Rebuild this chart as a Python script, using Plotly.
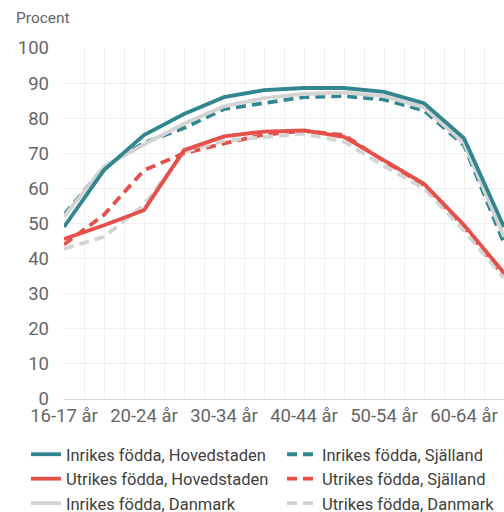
import plotly.graph_objects as go

categories = ["16-17 år", "18-19 år", "20-24 år", "25-29 år", "30-34 år", "35-39 år",
              "40-44 år", "45-49 år", "50-54 år", "55-59 år", "60-64 år", "65-69 år"]

inrikes_hovedstaden = [49.0, 65.2, 75.2, 81.2, 86.0, 88.0, 88.6, 88.6, 87.5, 84.3, 74.3, 49.0]
inrikes_sjalland    = [52.5, 66.0, 73.0, 77.2, 82.6, 84.4, 86.0, 86.3, 85.3, 82.2, 72.3, 44.4]
utrikes_hovedstaden = [45.6, 49.5, 53.8, 70.9, 74.8, 76.2, 76.5, 74.7, 68.0, 61.3, 49.6, 35.9]
utrikes_sjalland    = [44.0, 52.5, 65.2, 70.0, 72.8, 75.3, 76.4, 75.2, 67.8, 61.0, 49.0, 35.0]
inrikes_danmark     = [52.0, 66.2, 72.5, 78.4, 83.4, 85.7, 86.9, 87.3, 86.3, 83.1, 72.9, 46.2]
utrikes_danmark     = [42.8, 46.2, 55.3, 70.3, 73.6, 74.7, 75.6, 73.3, 66.4, 60.0, 48.0, 34.5]

x_idx = list(range(len(categories)))

TEAL = "#31868F"
RED = "#E5504A"
GRAY = "#D4D4D4"
DASH = "10px,6px"

series = [
    # (name, values, color, dash, legend, rank)
    ("Inrikes födda, Själland", inrikes_sjalland, TEAL, DASH, "legend2", 1),
    ("Utrikes födda, Själland", utrikes_sjalland, RED, DASH, "legend2", 2),
    ("Utrikes födda, Danmark", utrikes_danmark, GRAY, DASH, "legend2", 3),
    ("Inrikes födda, Danmark", inrikes_danmark, GRAY, "solid", "legend", 3),
    ("Utrikes födda, Hovedstaden", utrikes_hovedstaden, RED, "solid", "legend", 2),
    ("Inrikes födda, Hovedstaden", inrikes_hovedstaden, TEAL, "solid", "legend", 1),
]

fig = go.Figure()
for name, vals, color, dash, leg, rank in series:
    fig.add_trace(go.Scatter(
        x=x_idx, y=vals, mode="lines", name=name,
        line=dict(color=color, width=3.8, dash=dash),
        legend=leg, legendrank=rank, legendgroup=name, hoverinfo="skip",
    ))

PLOT_W, PLOT_H = 440, 351
leg_common = dict(
    orientation="v", yanchor="top", xanchor="left",
    font=dict(size=16.5, color="#404040"),
    traceorder="grouped", tracegroupgap=0, bgcolor="rgba(0,0,0,0)",
)

fig.update_layout(
    width=504, height=512,
    margin=dict(l=64, r=0, t=48, b=113, autoexpand=False),
    paper_bgcolor="white", plot_bgcolor="white",
    font=dict(family="Roboto, sans-serif", color="#666666"),
    showlegend=True,
    legend=dict(x=(26 - 64) / PLOT_W, y=-(437 - 399) / PLOT_H, **leg_common),
    legend2=dict(x=(282 - 64) / PLOT_W, y=-(437 - 399) / PLOT_H, **leg_common),
    annotations=[dict(
        text="Procent", xref="paper", yref="paper",
        x=-50 / PLOT_W, y=1 + 30 / PLOT_H, xanchor="left", yanchor="middle",
        showarrow=False, font=dict(size=15.5, color="#666666"),
    )],
)

fig.update_xaxes(
    range=[0, len(categories) - 1],
    tickmode="array", tickvals=x_idx[::2], ticktext=categories[::2],
    tickfont=dict(size=18.5, color="#666666"),
    showgrid=True, gridcolor="#F0F0F0", gridwidth=1,
    minor=dict(tick0=0, dtick=0.5, showgrid=True, gridcolor="#F0F0F0", gridwidth=1),
    showline=True, linecolor="#D9D9D9", linewidth=1,
    zeroline=False, ticks="", fixedrange=True,
)
fig.update_yaxes(
    range=[0, 100], dtick=10,
    tickfont=dict(size=18.5, color="#666666"),
    showgrid=True, gridcolor="#F0F0F0", gridwidth=1,
    zeroline=False, ticks="", ticklabelstandoff=14, fixedrange=True,
)

fig.write_html("out.html", config={"displayModeBar": False},
               post_script="document.body.style.margin='0';")
